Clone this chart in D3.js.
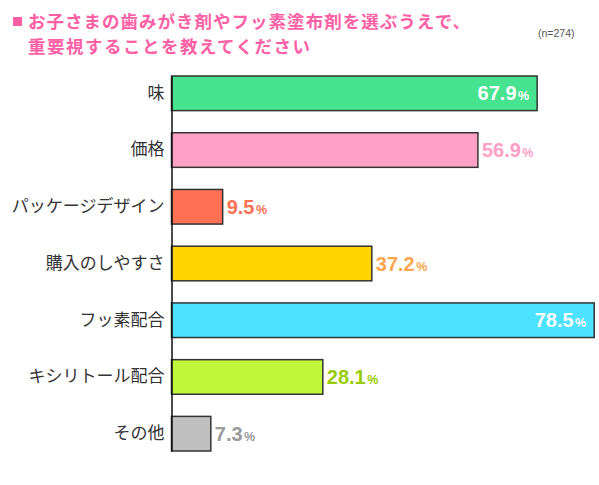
<!DOCTYPE html>
<html>
<head>
<meta charset="utf-8">
<script src="https://cdn.jsdelivr.net/npm/d3@7"></script>
<style>
  body { margin: 0; background: #fff; }
  svg { display: block; }
</style>
</head>
<body>
<div id="chart"></div>
<script>
const categories = ["味", "価格", "パッケージデザイン", "購入のしやすさ", "フッ素配合", "キシリトール配合", "その他"];
const values = [67.9, 56.9, 9.5, 37.2, 78.5, 28.1, 7.3];
const barColors = ["#48e391", "#ffa0c7", "#ff7155", "#ffd400", "#4de2ff", "#c2f83b", "#c0c0c0"];
const labelColors = ["#ffffff", "#ffa0c7", "#ff7155", "#ffa64f", "#ffffff", "#99cc00", "#9a9a9a"];
const labelInside = [true, false, false, false, true, false, false];
const titleLines = ["お子さまの歯みがき剤やフッ素塗布剤を選ぶうえで、", "重要視することを教えてください"];
const sampleNote = "(n=274)";

const width = 599, height = 485;
const svg = d3.select("#chart").append("svg")
    .attr("width", width)
    .attr("height", height);

// title
svg.append("rect")
    .attr("x", 13).attr("y", 17)
    .attr("width", 9).attr("height", 9)
    .attr("fill", "#ff5fa5");

// two lines, a bit stretched so the line boxes don't collide
const titleWidths = [442, 282];
svg.append("g")
    .attr("font-family", "'Noto Sans CJK JP', sans-serif")
    .attr("font-weight", "bold")
    .attr("font-size", 17.5)
    .attr("fill", "#ff5fa5")
    .selectAll("text")
    .data(titleLines)
    .join("text")
        .attr("x", 28)
        .attr("y", (d, i) => 27.5 + i * 25.5)
        .attr("textLength", (d, i) => titleWidths[i])
        .attr("lengthAdjust", "spacing")
        .text(d => d);

svg.append("text")
    .attr("x", 538).attr("y", 37)
    .attr("font-family", "'Liberation Sans', Arial, sans-serif")
    .attr("font-size", 10.5)
    .attr("fill", "#555")
    .text(sampleNote);

// scales
const x = d3.scaleLinear().domain([0, 100]).range([171.5, 710]);
const y = d3.scaleBand().domain(categories).range([76, 451]).paddingInner(0.39).paddingOuter(0);

// bars
svg.append("g")
    .selectAll("rect")
    .data(values)
    .join("rect")
        .attr("x", x(0))
        .attr("y", (d, i) => y(categories[i]))
        .attr("width", d => x(d) - x(0))
        .attr("height", y.bandwidth())
        .attr("fill", (d, i) => barColors[i])
        .attr("stroke", "#333")
        .attr("stroke-width", 1.5);

// y axis line + category labels
const yAxis = d3.axisLeft(y).tickSize(0).tickPadding(7);
svg.append("g")
    .attr("transform", `translate(${x(0)},0)`)
    .call(yAxis)
    .call(g => g.select(".domain").attr("stroke", "#111").attr("stroke-width", 1.5))
    .call(g => g.selectAll(".tick text")
        .attr("font-family", "'Noto Sans CJK JP', sans-serif")
        .attr("font-size", 17)
        .attr("fill", "#333"));

// value labels
const vals = svg.append("g")
    .attr("font-family", "'Liberation Sans', Arial, sans-serif")
    .attr("font-weight", "bold")
    .selectAll("text")
    .data(values)
    .join("text")
        .attr("x", (d, i) => labelInside[i] ? x(d) - 8 : x(d) + 4)
        .attr("y", (d, i) => y(categories[i]) + y.bandwidth() / 2 + 7)
        .attr("text-anchor", (d, i) => labelInside[i] ? "end" : "start")
        .attr("fill", (d, i) => labelColors[i]);

vals.append("tspan")
    .attr("font-size", 20)
    .text(d => d.toFixed(1));
vals.append("tspan")
    .attr("font-size", 12.5)
    .attr("dx", 1.5)
    .text("%");
</script>
</body>
</html>
